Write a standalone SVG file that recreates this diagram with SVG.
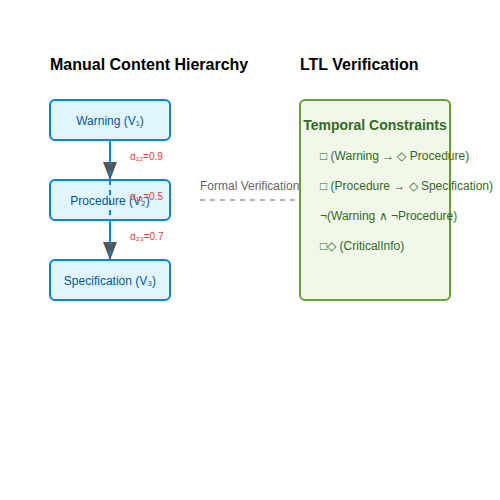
<svg xmlns="http://www.w3.org/2000/svg" width="500" height="500" viewBox="0 0 500 500">
<defs>
<marker id="arrow" viewBox="0 0 18 14" refX="18" refY="7" markerWidth="18" markerHeight="14" markerUnits="userSpaceOnUse" orient="auto">
<path d="M0,0 L18,7 L0,14 Z" fill="#555555"/>
</marker>
<style>
.title{font-family:"Liberation Sans",Arial,sans-serif;font-size:16px;font-weight:bold;fill:#000}
.node rect{fill:#e1f5fe;stroke:#0288d1;stroke-width:2}
.node text{font-family:"Liberation Sans",Arial,sans-serif;font-size:12px;fill:#01579b;text-anchor:middle}
.edge{stroke:#0288d1;stroke-width:2;fill:none}
.elabel{font-family:"Liberation Sans",Arial,sans-serif;font-size:10px;fill:#e53935}
.ltl{font-family:"Liberation Sans",Arial,sans-serif;font-size:12px;fill:#33691e}
</style>
</defs>
<rect width="500" height="500" fill="#ffffff"/>
<text class="title" x="50" y="70">Manual Content Hierarchy</text>
<text class="title" x="300" y="70">LTL Verification</text>

<g id="node-warning" class="node">
<rect x="50" y="100" width="120" height="40" rx="5"/>
<text x="110" y="125">Warning (V₁)</text>
</g>
<g id="node-procedure" class="node">
<rect x="50" y="180" width="120" height="40" rx="5"/>
<text x="110" y="205">Procedure (V₂)</text>
</g>
<g id="node-specification" class="node">
<rect x="50" y="260" width="120" height="40" rx="5"/>
<text x="110" y="285">Specification (V₃)</text>
</g>

<g id="connectors">
<line class="edge" x1="110" y1="140" x2="110" y2="180" marker-end="url(#arrow)"/>
<line class="edge" x1="110" y1="220" x2="110" y2="260" marker-end="url(#arrow)"/>
<line class="edge" x1="110" y1="140" x2="110" y2="260" stroke-dasharray="5,5"/>
<text class="elabel" x="130" y="160">α₁₂=0.9</text>
<text class="elabel" x="130" y="200">α₁₃=0.5</text>
<text class="elabel" x="130" y="240">α₂₃=0.7</text>
<line x1="200" y1="200" x2="300" y2="200" stroke="#999999" stroke-width="1.5" stroke-dasharray="5,5"/>
<text x="200" y="190" font-family="Liberation Sans, Arial, sans-serif" font-size="12" fill="#666666">Formal Verification</text>
</g>

<g id="node-ltl">
<rect x="300" y="100" width="150" height="200" rx="5" fill="#f1f8e9" stroke="#689f38" stroke-width="2"/>
<text x="375" y="130" text-anchor="middle" font-family="Liberation Sans, Arial, sans-serif" font-size="14" font-weight="bold" fill="#33691e">Temporal Constraints</text>
<text class="ltl" x="320" y="160">□ (Warning → ◇ Procedure)</text>
<text class="ltl" x="320" y="190">□ (Procedure → ◇ Specification)</text>
<text class="ltl" x="320" y="220">¬(Warning ∧ ¬Procedure)</text>
<text class="ltl" x="320" y="250">□◇ (CriticalInfo)</text>
</g>
</svg>
